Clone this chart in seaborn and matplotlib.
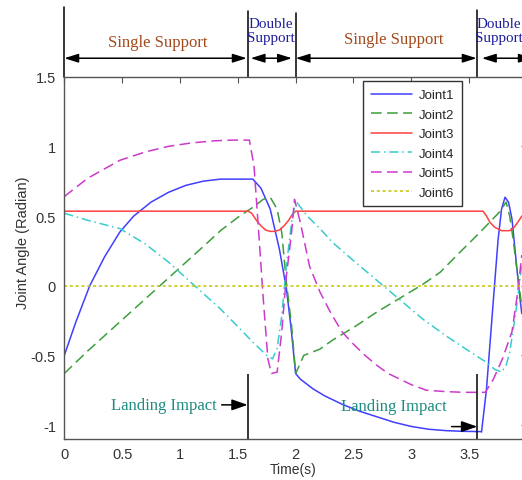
import matplotlib
matplotlib.use("Agg")
import matplotlib.pyplot as plt
import seaborn as sns

# ---- data ----
joint1_t = [0, 0.1, 0.22, 0.35, 0.48, 0.6, 0.75, 0.9, 1.05, 1.2, 1.35, 1.5, 1.63, 1.7, 1.78, 1.86,
            1.92, 1.96, 2.0, 2.04, 2.15, 2.25, 2.4, 2.55, 2.7, 2.85, 3.0, 3.15, 3.3, 3.45, 3.6,
            3.607, 3.65, 3.71, 3.75, 3.78, 3.81, 3.84, 3.87, 3.91, 3.94, 3.955]
joint1_v = [-0.5, -0.26, 0.0, 0.21, 0.385, 0.5, 0.6, 0.67, 0.72, 0.75, 0.765, 0.765, 0.765, 0.7, 0.55, 0.26,
            -0.02, -0.3, -0.63, -0.67, -0.74, -0.79, -0.85, -0.9, -0.94, -0.98, -1.01, -1.03, -1.04, -1.045, -1.047,
            -1.05, -0.74, -0.095, 0.33, 0.55, 0.635, 0.6, 0.48, 0.144, -0.095, -0.2]

joint2_t = [0, 0.2, 0.4, 0.6, 0.8, 1.0, 1.2, 1.35, 1.5, 1.63, 1.72, 1.78, 1.84, 1.88, 1.92, 1.965,
            2.0, 2.07, 2.21, 2.32, 2.5, 2.7, 2.9, 3.1, 3.25, 3.42, 3.59, 3.76, 3.82, 3.85, 3.88, 3.92, 3.955]
joint2_v = [-0.63, -0.47, -0.32, -0.17, -0.02, 0.13, 0.28, 0.395, 0.49, 0.563, 0.62, 0.635, 0.55, 0.38, 0.025, -0.29,
            -0.63, -0.5, -0.455, -0.39, -0.3, -0.19, -0.09, 0.01, 0.097, 0.24, 0.38, 0.527, 0.6, 0.5, 0.335, 0.07, -0.15]

joint3_t = [0, 1.59, 1.62, 1.66, 1.7, 1.74, 1.78, 1.82, 1.86, 1.9, 1.94, 1.97, 2.0,
            3.62, 3.65, 3.68, 3.72, 3.78, 3.85, 3.89, 3.92, 3.955]
joint3_v = [0.535, 0.535, 0.52, 0.47, 0.43, 0.4, 0.39, 0.39, 0.4, 0.43, 0.47, 0.51, 0.535,
            0.535, 0.5, 0.455, 0.42, 0.395, 0.395, 0.42, 0.455, 0.5]

joint4_t = [0, 0.2, 0.48, 0.7, 0.9, 1.1, 1.35, 1.49, 1.63, 1.75, 1.8, 1.84, 1.88, 1.92, 1.965, 2.0,
            2.1, 2.21, 2.32, 2.5, 2.7, 2.9, 3.1, 3.3, 3.5, 3.65, 3.72, 3.78, 3.82, 3.85, 3.9, 3.94, 3.955]
joint4_v = [0.52, 0.47, 0.41, 0.3, 0.17, 0.02, -0.167, -0.285, -0.405, -0.5, -0.525, -0.45, -0.215, 0.145, 0.455, 0.61,
            0.5, 0.41, 0.31, 0.18, 0.04, -0.1, -0.24, -0.36, -0.47, -0.55, -0.6, -0.62, -0.57, -0.48, -0.21, 0.05, 0.15]

joint5_t = [0, 0.2, 0.48, 0.7, 0.9, 1.1, 1.3, 1.45, 1.6, 1.64, 1.68, 1.72, 1.76, 1.79, 1.84, 1.88,
            1.92, 1.965, 1.99, 2.04, 2.12, 2.21, 2.3, 2.4, 2.5, 2.6, 2.7, 2.8, 2.9, 3.0, 3.13, 3.3,
            3.45, 3.64, 3.71, 3.79, 3.87, 3.92, 3.955]
joint5_v = [0.64, 0.77, 0.9, 0.96, 1.0, 1.025, 1.04, 1.045, 1.045, 0.86, 0.39, -0.095, -0.525, -0.63, -0.62, -0.33,
            0.07, 0.385, 0.62, 0.456, 0.14, -0.045, -0.19, -0.33, -0.42, -0.5, -0.57, -0.63, -0.67, -0.71, -0.75, -0.76,
            -0.765, -0.765, -0.67, -0.52, -0.33, -0.045, 0.22]

joint6_t = [0, 3.955]
joint6_v = [0, 0]

phase_bounds = [0, 1.585, 2.0, 3.57]
x_ticks = [0, 0.5, 1, 1.5, 2, 2.5, 3, 3.5]
y_ticks = [-1, -0.5, 0, 0.5, 1, 1.5]

# ---- style ----
sns.set_style("white")
plt.rcParams["font.family"] = ["Liberation Sans", "DejaVu Sans"]
SERIF = ["Liberation Serif", "DejaVu Serif"]

series = [
    ("Joint1", joint1_t, joint1_v, "#3f3fff", "-"),
    ("Joint2", joint2_t, joint2_v, "#3c9e3c", (0, (7, 3.5))),
    ("Joint3", joint3_t, joint3_v, "#ff4040", "-"),
    ("Joint4", joint4_t, joint4_v, "#38cccc", (0, (6, 2.5, 1, 2.5))),
    ("Joint5", joint5_t, joint5_v, "#cc3acc", (0, (7, 3.5))),
    ("Joint6", joint6_t, joint6_v, "#c4c400", (0, (2, 1.8))),
]

fig = plt.figure(figsize=(5.22, 4.81), dpi=100)
ax = fig.add_axes([64.3 / 522, 41 / 481, 462.7 / 522, 362.3 / 481])

for name, t, v, color, ls in series:
    sns.lineplot(x=t, y=v, ax=ax, color=color, linestyle=ls, linewidth=1.1,
                 label=name, sort=False)

ax.set_xlim(0, 4)
ax.set_ylim(-1.1, 1.5)
ax.set_xticks(x_ticks)
ax.set_xticklabels([f"{x:g}" for x in x_ticks])
ax.set_yticks(y_ticks)
ax.set_yticklabels([f"{y:g}" for y in y_ticks])
ax.tick_params(direction="in", length=4, width=0.8, color="#555555",
               labelsize=10.5, labelcolor="#333333", top=True, right=True, pad=6)
for s in ax.spines.values():
    s.set_color("#555555")
    s.set_linewidth(1.0)

ax.set_xlabel("Time(s)", fontsize=10, color="#333333")
ax.xaxis.set_label_coords(0.495, -0.063)
ax.set_ylabel("Joint Angle (Radian)", fontsize=10.5, color="#333333")
ax.yaxis.set_label_coords(-0.075, 0.544)

leg = ax.legend(loc="upper left", bbox_to_anchor=(0.646, 0.987), borderaxespad=0,
                fancybox=False, framealpha=1, edgecolor="#333333", fontsize=9.5,
                handlelength=3.1, labelspacing=0.55, borderpad=0.58, handletextpad=0.5)
leg.get_frame().set_linewidth(1.0)

# ---- phase annotations above the axes ----
xt = ax.get_xaxis_transform()
tops = [1.192, 1.181, 1.176, 1.184]
for b, top in zip(phase_bounds, tops):
    ax.axvline(b, ymin=1.0, ymax=top, color="black", linewidth=1.1, clip_on=False)

arrow_y = 1.051
arrow_kw = dict(arrowstyle="<|-|>,head_length=0.7,head_width=0.22", color="black",
                lw=1.1, shrinkA=0, shrinkB=0, mutation_scale=12)
spans = [(0.0, 1.577), (1.611, 1.968), (2.0, 3.565), (3.61, 4.05)]
for a, b in spans:
    ax.annotate("", xy=(b, arrow_y), xytext=(a, arrow_y), xycoords=xt,
                textcoords=xt, arrowprops=arrow_kw, annotation_clip=False)

ax.text(0.806, 1.097, "Single Support", transform=xt, ha="center", va="center",
        fontsize=12, color="#a34a1c", family=SERIF)
ax.text(2.85, 1.104, "Single Support", transform=xt, ha="center", va="center",
        fontsize=12, color="#a34a1c", family=SERIF)
ax.text(1.787, 1.128, "Double\nSupport", transform=xt, ha="center", va="center",
        fontsize=10.8, color="#1c1c9c", family=SERIF, linespacing=1.15)
ax.text(3.76, 1.128, "Double\nSupport", transform=xt, ha="center", va="center",
        fontsize=10.8, color="#1c1c9c", family=SERIF, linespacing=1.15, clip_on=False)

# ---- landing impact markers ----
ax.vlines([phase_bounds[1], phase_bounds[3]], -1.1, -0.63, color="black", linewidth=1.1)
imp_kw = dict(arrowstyle="-|>,head_length=0.8,head_width=0.28", color="black",
              lw=1.1, shrinkA=0, shrinkB=0, mutation_scale=12)
ax.annotate("", xy=(phase_bounds[1], -0.855), xytext=(1.36, -0.855), arrowprops=imp_kw)
ax.annotate("", xy=(phase_bounds[3], -1.011), xytext=(3.348, -1.011), arrowprops=imp_kw)
ax.text(0.86, -0.856, "Landing Impact", ha="center", va="center", fontsize=12,
        color="#1e8c82", family=SERIF)
ax.text(2.851, -0.86, "Landing Impact", ha="center", va="center", fontsize=12,
        color="#1e8c82", family=SERIF)

fig.savefig("out.png", dpi=100)
